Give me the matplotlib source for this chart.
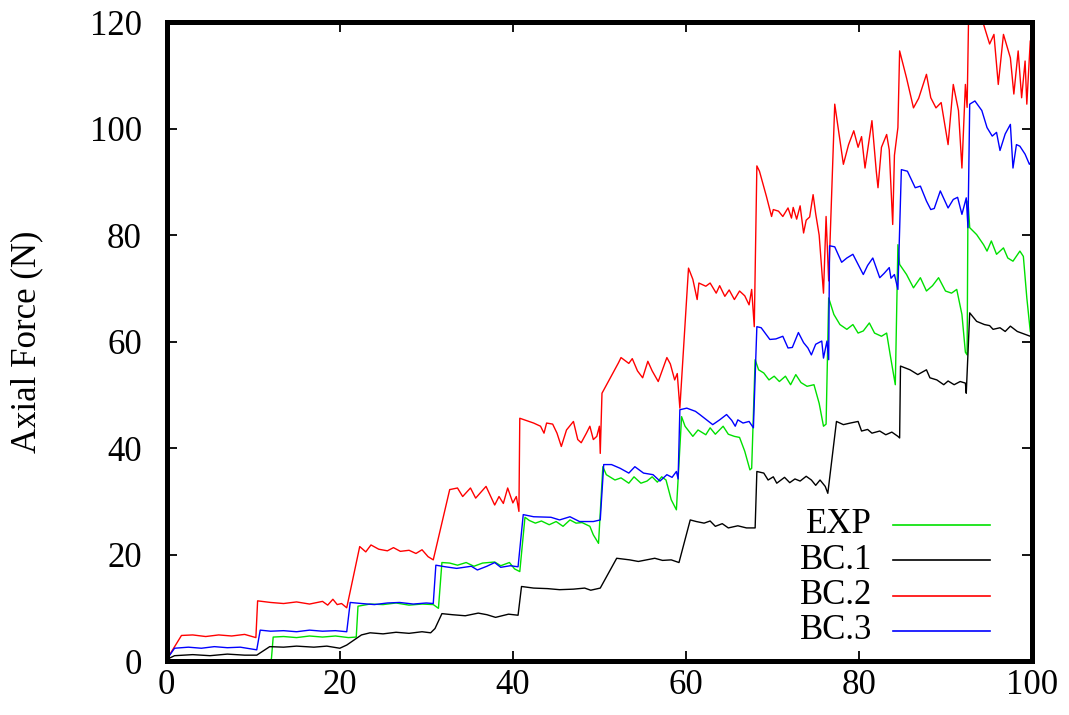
import matplotlib
matplotlib.use("Agg")
import matplotlib.pyplot as plt

# measured axial force per series (x in %, y in N)
exp_x = [11.8, 12.1, 12.3, 13.5, 15, 16.5, 18, 19.5, 21.0, 21.9, 22.1, 23.5, 25, 26.5, 28, 29.5, 30.8, 31.4,
         31.8, 32.7, 33.6, 34.6, 35.5, 36.5, 37.9, 38.6, 39.6, 40.2, 40.8, 41.4, 41.9, 42.6, 43.3, 44.2, 45.0,
         45.8, 46.6, 47.3, 48.0, 48.9, 49.3, 49.9, 50.4, 50.8, 51.8, 52.5, 53.4, 54.0, 54.8, 55.5, 56.1, 56.7,
         57.2, 57.7, 58.3, 58.9, 59.5, 59.9, 60.8, 61.4, 62.3, 62.8, 63.4, 64.3, 64.9, 65.6, 66.2, 66.8, 67.4,
         67.6, 68.0, 68.4, 69.0, 69.6, 70.2, 70.8, 71.5, 72.1, 72.7, 73.3, 74.0, 74.8, 75.4, 75.9, 76.2, 76.5,
         77.1, 77.8, 78.6, 79.3, 79.9, 80.5, 81.2, 81.8, 82.6, 83.2, 83.6, 84.2, 84.5, 84.7, 85.5, 86.3, 87.1,
         87.8, 88.5, 89.2, 90.0, 90.7, 91.3, 91.9, 92.3, 92.5, 92.6, 92.8, 93.6, 94.4, 94.8, 95.3, 95.9, 96.7,
         97.2, 97.8, 98.6, 99.0, 99.4, 99.8, 100]
exp_y = [-1, 0.5, 4.5, 4.6, 4.4, 4.7, 4.5, 4.7, 4.4, 4.5, 10.3, 10.7, 10.6, 10.9, 10.5, 10.7, 10.6, 9.9,
         18.5, 18.4, 18.0, 18.5, 17.8, 18.4, 18.6, 17.9, 18.5, 17.3, 16.8, 27.0, 26.4, 25.9, 26.3, 25.6, 26.2,
         25.3, 26.5, 25.9, 26.0, 25.3, 23.7, 22.1, 36.5, 35.0, 34.0, 34.4, 33.4, 34.6, 33.4, 33.8, 34.6, 33.6,
         34.6, 34.0, 30.3, 28.4, 45.9, 44.1, 42.2, 43.4, 42.5, 43.8, 42.6, 44.1, 42.6, 42.2, 42.0, 39.4, 35.9,
         36.2, 56.6, 54.7, 54.1, 52.8, 53.5, 52.5, 53.5, 51.9, 53.8, 52.3, 51.6, 51.9, 48.4, 44.1, 44.5, 68.2,
         65.1, 63.2, 62.3, 63.2, 61.6, 62.0, 63.5, 61.6, 61.0, 61.6, 57.6, 51.9, 78.2, 74.5, 72.6, 70.1, 72.0,
         69.5, 70.5, 72.0, 69.5, 69.1, 69.8, 65.1, 58.0, 57.5, 86.4, 81.4, 80.1, 78.2, 77.0, 78.9, 76.4, 77.6,
         75.7, 75.1, 77.0, 76.0, 68.2, 61.9, 61.0]

bc1_x = [0, 0.9, 3, 5, 7, 9, 10.4, 11.9, 13.5, 15, 17, 18.5, 20, 20.8, 22.5, 23.5, 25, 26.5, 28, 29.5, 30.5,
         31, 31.8, 33, 34.5, 36, 37, 38, 39.5, 40.6, 41.0, 42.4, 44, 45.4, 47, 48.3, 49, 50.1, 52.0, 53.5,
         54.5, 56.4, 57.3, 58.3, 59.2, 60.5, 61.2, 62.1, 62.8, 63.4, 64.2, 64.9, 66.0, 67.0, 68.0, 68.2, 69.0,
         69.5, 70.1, 70.5, 71.4, 72.0, 72.6, 73.2, 73.9, 74.5, 75.0, 75.5, 76.1, 76.4, 77.4, 78.2, 79.0, 79.9,
         80.3, 81.0, 81.5, 82.4, 83.1, 83.8, 84.5, 84.7, 84.8, 85.9, 86.8, 87.8, 88.2, 89.0, 89.8, 90.3, 91.0,
         91.7, 92.3, 92.4, 92.8, 93.6, 94.5, 95.1, 95.5, 96.3, 96.9, 97.5, 98.3, 98.8, 99.8, 100]
bc1_y = [0.3, 1.0, 1.2, 1.0, 1.3, 1.1, 1.1, 2.7, 2.6, 2.8, 2.6, 2.8, 2.4, 3.0, 4.9, 5.3, 5.1, 5.4, 5.2, 5.5, 5.3,
         6.1, 8.9, 8.7, 8.5, 9.0, 8.7, 8.2, 8.8, 8.6, 14.0, 13.7, 13.6, 13.4, 13.5, 13.7, 13.3, 13.7, 19.3, 19.0,
         18.7, 19.3, 18.9, 19.0, 18.5, 26.5, 26.2, 25.9, 26.3, 25.3, 25.8, 25.0, 25.4, 25.0, 25.0, 35.6, 35.3,
         34.0, 34.6, 33.4, 34.5, 33.5, 34.2, 33.8, 34.7, 34.0, 33.0, 34.0, 32.8, 31.5, 45.0, 44.4, 44.7, 45.0,
         43.2, 43.5, 42.8, 43.2, 42.5, 43.0, 42.2, 41.9, 55.4, 54.7, 53.8, 54.7, 53.2, 52.8, 51.9, 52.6, 51.9,
         52.5, 52.2, 50.3, 65.4, 63.8, 63.2, 63.0, 62.3, 62.6, 61.9, 62.9, 61.9, 61.6, 61.0, 60.7]

bc2_x = [0, 1.7, 3, 4.5, 6, 7.5, 9, 10.3, 10.5, 12, 13.5, 15, 16.5, 18, 18.6, 19.2, 19.7, 20.2, 20.8, 22.3,
         23, 23.6, 24.5, 25.5, 26.2, 27, 28, 28.8, 29.5, 30.2, 30.8, 32.7, 33.6, 34.2, 35.1, 35.7, 36.9, 37.9,
         38.4, 38.9, 39.4, 40, 40.4, 40.7, 40.8, 42.4, 43.2, 43.6, 43.9, 44.6, 45.1, 45.6, 46.2, 47, 47.5, 47.9,
         48.5, 48.9, 49.3, 49.7, 50.0, 50.1, 50.3, 52.2, 52.5, 53.4, 53.8, 54.4, 55.0, 55.6, 56.1, 56.8, 57.8,
         58.2, 58.7, 59.0, 59.3, 60.3, 60.8, 61.3, 61.5, 62.3, 62.8, 63.5, 63.9, 64.5, 65.0, 65.6, 66.2, 66.8,
         67.3, 67.6, 67.9, 68.2, 68.5, 69.3, 69.9, 70.1, 70.7, 71.2, 71.8, 72.2, 72.4, 72.8, 73.2, 73.6, 73.9,
         74.3, 74.7, 75.0, 75.4, 75.9, 76.2, 76.5, 77.2, 78.2, 78.8, 79.4, 79.9, 80.3, 80.7, 81.5, 82.0, 82.2,
         82.6, 83.2, 83.5, 83.9, 84.1, 84.5, 84.7, 85.5, 86.3, 86.9, 87.8, 88.3, 88.9, 89.5, 90.3, 90.9, 91.5,
         91.9, 92.3, 92.5, 92.7, 93.5, 94.4, 95.1, 95.6, 96.1, 96.7, 97.5, 97.9, 98.4, 98.8, 99.2, 99.4, 99.8,
         100]
bc2_y = [0.3, 4.8, 4.9, 4.6, 4.9, 4.7, 5.0, 4.4, 11.3, 11.0, 10.8, 11.1, 10.7, 11.2, 10.5, 11.6, 10.6, 10.8,
         10.0, 21.5, 20.5, 21.8, 21.0, 20.7, 21.3, 20.6, 20.8, 20.2, 20.9, 19.6, 19.0, 32.2, 32.5, 30.9, 32.5,
         30.6, 32.8, 29.3, 30.9, 29.6, 32.5, 29.7, 30.9, 28.1, 45.6, 44.7, 44.1, 42.8, 44.7, 44.5, 42.8, 40.3,
         43.4, 45.0, 41.6, 41.0, 42.8, 44.1, 41.6, 42.2, 44.1, 39.0, 50.3, 56.0, 57.0, 55.9, 56.8, 54.5, 53.2,
         56.3, 54.5, 52.5, 57.0, 55.8, 52.8, 54.0, 47.5, 73.8, 71.7, 67.9, 71.0, 70.4, 71.0, 69.1, 70.5, 68.5,
         69.7, 67.9, 69.5, 68.6, 66.9, 69.8, 62.8, 93.0, 92.0, 87.3, 83.5, 84.8, 84.5, 83.5, 85.1, 83.2, 85.2,
         83.0, 85.5, 80.4, 82.8, 83.4, 87.6, 84.0, 80.0, 69.1, 83.5, 71.4, 104.6, 93.3, 97.0, 99.6, 96.5, 98.5,
         92.6, 101.5, 92.0, 88.9, 96.5, 98.9, 96.0, 82.0, 95.0, 100.2, 114.6, 109.5, 103.9, 105.7, 110.2,
         105.8, 103.9, 104.9, 97.0, 108.3, 103.4, 92.6, 108.3, 104.0, 124, 126, 119.6, 115.9, 117.7, 108.3,
         117.7, 113.3, 106.5, 114.6, 105.8, 112.7, 104.6, 116.5, 115]

bc3_x = [0, 0.9, 2.5, 4, 5.5, 7, 8.5, 10.4, 10.8, 12, 13.5, 15, 16.5, 18, 19.5, 20.8, 21.2, 22.5, 24, 25.5,
         26.9, 28.5, 30, 30.8, 31.1, 32.2, 33.5, 35.2, 35.9, 37, 37.9, 38.6, 39.7, 40.6, 41.2, 42.4, 44.4, 45.4,
         46.6, 47.7, 49.3, 50.1, 50.5, 51.4, 52.4, 53.4, 54.1, 55.1, 56.2, 57.0, 57.8, 58.4, 58.9, 59.1, 59.3,
         60.1, 61.1, 61.6, 62.4, 63.1, 63.9, 64.7, 65.3, 65.7, 66.0, 66.6, 67.3, 67.8, 68.2, 68.7, 69.7, 70.4,
         71.2, 71.8, 72.3, 73.0, 73.6, 74.1, 74.5, 75.0, 75.7, 75.9, 76.3, 76.5, 76.6, 77.2, 78.0, 78.6, 79.3,
         79.9, 80.5, 81.0, 81.6, 82.4, 82.9, 83.5, 83.7, 84.1, 84.5, 84.9, 85.6, 86.5, 87.1, 87.8, 88.3, 88.7,
         89.4, 89.9, 90.3, 90.9, 91.4, 91.9, 92.4, 92.6, 92.8, 93.4, 94.2, 94.8, 95.4, 95.9, 96.3, 96.9, 97.5,
         97.8, 98.2, 98.6, 99.2, 99.7, 100]
bc3_y = [0.3, 2.4, 2.6, 2.4, 2.7, 2.5, 2.6, 2.1, 5.8, 5.6, 5.7, 5.5, 5.8, 5.6, 5.7, 5.5, 11.0, 10.8, 10.6, 10.9,
         11.0, 10.7, 10.9, 10.8, 18.0, 17.7, 17.4, 17.8, 17.1, 17.8, 18.5, 17.6, 17.9, 17.7, 27.5, 27.1, 27.0,
         26.5, 27.1, 26.2, 26.2, 26.5, 36.9, 36.9, 36.2, 35.3, 36.5, 35.3, 35.0, 33.8, 35.0, 34.5, 35.6, 34.2,
         47.2, 47.5, 46.9, 46.3, 45.3, 44.4, 45.3, 46.3, 45.2, 44.1, 45.3, 44.7, 45.0, 43.8, 62.8, 62.6, 60.4,
         60.5, 61.0, 58.8, 58.9, 61.7, 59.8, 58.8, 57.5, 59.5, 60.1, 56.9, 60.1, 56.6, 78.0, 77.8, 74.9, 75.7,
         76.4, 74.5, 72.6, 74.3, 75.7, 72.0, 72.8, 73.9, 71.9, 72.6, 69.8, 92.3, 92.0, 88.9, 89.2, 86.4, 84.8,
         85.0, 88.3, 86.5, 85.1, 86.7, 87.1, 83.9, 87.0, 81.4, 104.6, 105.2, 103.4, 100.2, 98.6, 99.3, 95.9,
         99.0, 100.8, 92.6, 97.0, 96.7, 95.2, 93.3, 94.0]

labels = ['EXP', 'BC.1', 'BC.2', 'BC.3']
colors = ['#00e000', 'black', '#ff0000', '#0000ff']

plt.rcParams['font.family'] = ['Liberation Serif', 'DejaVu Serif']

fig = plt.figure(figsize=(10.69, 7.15), dpi=100)
ax = fig.add_axes([0.156, 0.0755, 0.8094, 0.8935])

series = [(exp_x, exp_y), (bc1_x, bc1_y), (bc2_x, bc2_y), (bc3_x, bc3_y)]
for (xs, ys), c in zip(series, colors):
    ax.plot(xs, ys, color=c, lw=1.0)

ax.set_xlim(0, 100)
ax.set_ylim(0, 120)
ax.set_xticks(range(0, 101, 20))
ax.set_yticks(range(0, 121, 20))
ax.tick_params(direction='in', length=7, width=1.3, labelsize=25,
               top=True, right=True)
ax.tick_params(axis='y', pad=18)
ax.tick_params(axis='x', pad=6)
for s in ax.spines.values():
    s.set_linewidth(3.6)

ax.set_ylabel('Axial Force (N)', fontsize=25)
ax.yaxis.set_label_coords(-0.143, 0.5)

# gnuplot-style key: text right-aligned, sample to the right
key_y = [0.213, 0.158, 0.102, 0.047]
for lab, c, ky in zip(labels, colors, key_y):
    ax.text(0.815, ky, lab, transform=ax.transAxes, ha='right', va='center', fontsize=25)
    ax.plot([0.839, 0.951], [ky, ky], color=c, lw=1.2, transform=ax.transAxes, clip_on=False)

fig.savefig('out.png', dpi=100)
